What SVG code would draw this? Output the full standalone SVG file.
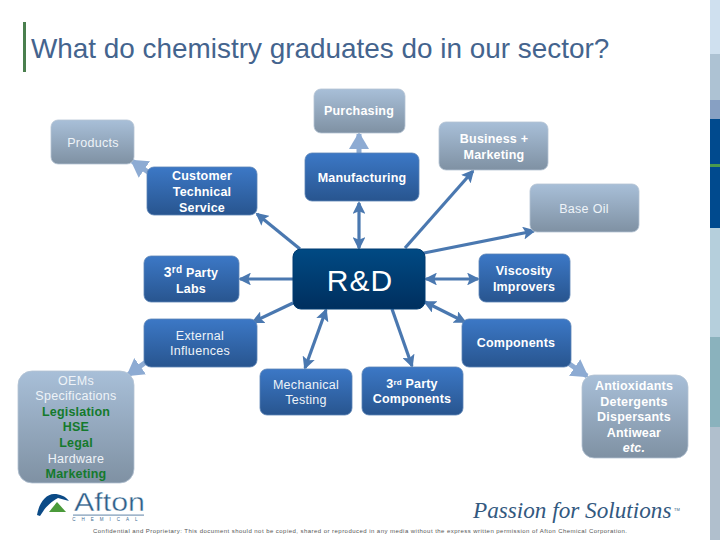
<svg xmlns="http://www.w3.org/2000/svg" width="720" height="540" viewBox="0 0 720 540">
<style>
text{font-family:"Liberation Sans",Arial,sans-serif;text-anchor:middle;fill:#fff}
.n{font-size:12.5px;letter-spacing:.3px;fill:#eef3f8}
.b{font-size:12.5px;font-weight:bold;letter-spacing:.2px}
.g{fill:#147a2c;font-weight:bold;font-size:12.5px;letter-spacing:.2px}
.blue{fill:url(#blueG);stroke:#5a83b5;stroke-width:.8}
.grey{fill:url(#greyG);stroke:#b4c3d3;stroke-width:.8}
.c{fill:none;stroke:#4a78b0;stroke-width:3.2}
.l{fill:none;stroke:#8dabd3;stroke-width:5}
</style>
<defs>
<linearGradient id="blueG" x1="0" y1="0" x2="0" y2="1"><stop offset="0" stop-color="#3c78c6"/><stop offset="1" stop-color="#28558f"/></linearGradient>
<linearGradient id="greyG" x1="0" y1="0" x2="0" y2="1"><stop offset="0" stop-color="#a8bfd8"/><stop offset="1" stop-color="#7f91a3"/></linearGradient>
<linearGradient id="navyG" x1="0" y1="0" x2="0" y2="1"><stop offset="0" stop-color="#004a84"/><stop offset="1" stop-color="#002f5e"/></linearGradient>
<marker id="a" markerWidth="4" markerHeight="4" refX="3.4" refY="2" orient="auto-start-reverse" markerUnits="strokeWidth"><path d="M0 0L4 2L0 4L.8 2Z" fill="#4a78b0"/></marker>
<marker id="la" markerWidth="3.4" markerHeight="4" refX="3" refY="2" orient="auto" markerUnits="strokeWidth"><path d="M0 0L3.4 2L0 4Z" fill="#8dabd3"/></marker>
</defs>
<rect width="720" height="540" fill="#fff"/>
<g id="sidebar">
<rect x="710" width="10" height="54" fill="#cfe0ef"/>
<rect x="710" y="54" width="10" height="46" fill="#adc2d3"/>
<rect x="710" y="100" width="10" height="19" fill="#87a0c3"/>
<rect x="710" y="119" width="10" height="109" fill="#004a8e"/>
<rect x="710" y="164" width="10" height="3" fill="#4a9a4e"/>
<rect x="710" y="228" width="10" height="109" fill="#b5cfdc"/>
<rect x="710" y="337" width="10" height="90" fill="#8ab2bd"/>
<rect x="710" y="427" width="10" height="113" fill="#b0bfcd"/>
</g>
<g id="title">
<rect x="23" y="22" width="3" height="50" fill="#4a7f4e"/>
<text x="31" y="58" style="text-anchor:start;fill:#44648e;font-size:27.9px">What do chemistry graduates do in our sector?</text>
</g>
<g id="connectors">
<path class="l" d="M359 153V134" marker-end="url(#la)"/>
<path class="l" d="M148 172L132 161" marker-end="url(#la)"/>
<path class="l" d="M146 362L128 375" marker-end="url(#la)"/>
<path class="l" d="M568 363L587 376" marker-end="url(#la)"/>
<path class="c" d="M359 203V248" marker-start="url(#a)" marker-end="url(#a)"/>
<path class="c" d="M300 249L257 214" marker-end="url(#a)"/>
<path class="c" d="M405 248L473 171" marker-end="url(#a)"/>
<path class="c" d="M424 253L534 231" marker-end="url(#a)"/>
<path class="c" d="M293 279H240" marker-end="url(#a)"/>
<path class="c" d="M426 279H478" marker-start="url(#a)" marker-end="url(#a)"/>
<path class="c" d="M293 303L253 322" marker-end="url(#a)"/>
<path class="c" d="M425 302L465 322" marker-start="url(#a)" marker-end="url(#a)"/>
<path class="c" d="M326 310L305 368" marker-start="url(#a)" marker-end="url(#a)"/>
<path class="c" d="M392 309L412 366" marker-end="url(#a)"/>
</g>
<g id="purchasing"><rect class="grey" x="314" y="89" width="91" height="44" rx="7"/><text class="b" x="359" y="115">Purchasing</text></g>
<g id="products"><rect class="grey" x="51" y="120" width="83" height="44" rx="7"/><text class="n" x="93" y="147">Products</text></g>
<g id="business"><rect class="grey" x="439" y="122" width="109" height="48" rx="7"/><text class="b" x="494" y="143">Business +</text><text class="b" x="494" y="159">Marketing</text></g>
<g id="base-oil"><rect class="grey" x="530" y="184" width="109" height="48" rx="7"/><text class="n" x="584" y="213">Base Oil</text></g>
<g id="customer"><rect class="blue" x="147" y="167" width="110" height="48" rx="7"/><text class="b" x="202" y="180">Customer</text><text class="b" x="202" y="196">Technical</text><text class="b" x="202" y="212">Service</text></g>
<g id="manufacturing"><rect class="blue" x="305" y="153" width="114" height="48" rx="7"/><text class="b" x="362" y="182">Manufacturing</text></g>
<g id="third-party-labs"><rect class="blue" x="144" y="256" width="95" height="46" rx="7"/><text class="b" x="191" y="277"><tspan font-size="14">3</tspan><tspan font-size="10" dy="-4">rd</tspan><tspan dy="4"> Party</tspan></text><text class="b" x="191" y="293">Labs</text></g>
<g id="rd"><rect x="293" y="249" width="132" height="60" rx="8" fill="url(#navyG)" stroke="#003a70"/><text x="360" y="291" font-size="30" letter-spacing="1">R&amp;D</text></g>
<g id="viscosity"><rect class="blue" x="479" y="254" width="91" height="48" rx="7"/><text class="b" x="524" y="275">Viscosity</text><text class="b" x="524" y="291">Improvers</text></g>
<g id="external"><rect class="blue" x="144" y="319" width="113" height="48" rx="7"/><text class="n" x="200" y="340">External</text><text class="n" x="200" y="355">Influences</text></g>
<g id="components"><rect class="blue" x="462" y="319" width="109" height="48" rx="7"/><text class="b" x="516" y="347">Components</text></g>
<g id="oems"><rect class="grey" x="18" y="371" width="116" height="112" rx="14"/>
<text class="n" x="76" y="385">OEMs</text><text class="n" x="76" y="400">Specifications</text><text class="g" x="76" y="416">Legislation</text><text class="g" x="76" y="431">HSE</text><text class="g" x="76" y="447">Legal</text><text class="n" x="76" y="463">Hardware</text><text class="g" x="76" y="478">Marketing</text></g>
<g id="mechanical"><rect class="blue" x="260" y="369" width="92" height="46" rx="7"/><text class="n" x="306" y="389">Mechanical</text><text class="n" x="306" y="404">Testing</text></g>
<g id="third-party-components"><rect class="blue" x="362" y="367" width="101" height="48" rx="7"/><text class="b" x="412" y="388">3<tspan font-size="8" dy="-3">rd</tspan><tspan dy="3"> Party</tspan></text><text class="b" x="412" y="403">Components</text></g>
<g id="antioxidants"><rect class="grey" x="582" y="375" width="106" height="83" rx="12"/>
<text class="b" x="634" y="390">Antioxidants</text><text class="b" x="634" y="406">Detergents</text><text class="b" x="634" y="421">Dispersants</text><text class="b" x="634" y="437">Antiwear</text><text class="b" x="634" y="452" font-style="italic">etc.</text></g>
<g id="afton-logo">
<path d="M37 515C39 503 46 494 54 494C60 494 65 496 69 501L58 498C52 501 46 507 44 510L40 516Z" fill="#0b4a86"/>
<path d="M49 512L57 502L66 512Z" fill="#4a9a3a"/>
<text x="74" y="511" style="text-anchor:start;fill:#2f5f8a;font-size:26px;stroke:#fff;stroke-width:.4" textLength="71" lengthAdjust="spacingAndGlyphs">Afton</text>
<rect x="73" y="514.5" width="71" height="1.2" fill="#7a97b5"/>
<text x="108" y="521" style="fill:#3a6a92;font-size:4.5px" letter-spacing="6">CHEMICAL</text>
</g>
<g id="tagline"><text x="473" y="518" style="text-anchor:start;fill:#33597f;font-family:'Liberation Serif',serif;font-style:italic;font-size:23.2px">Passion for Solutions</text><text x="677" y="511" style="fill:#33597f;font-size:4px">TM</text></g>
<text id="footer" x="93" y="533" style="text-anchor:start;fill:#555;font-size:6px" textLength="534" lengthAdjust="spacing">Confidential and Proprietary: This document should not be copied, shared or reproduced in any media without the express written permission of Afton Chemical Corporation.</text>
</svg>
